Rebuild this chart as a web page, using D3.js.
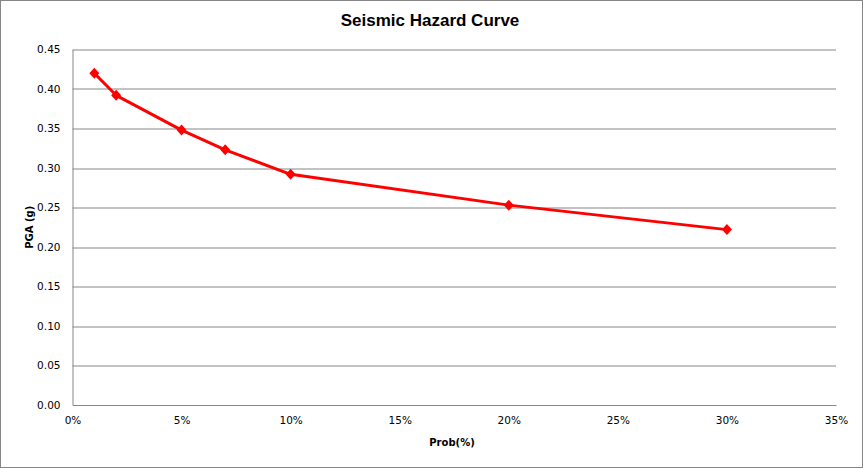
<!DOCTYPE html>
<html>
<head>
<meta charset="utf-8">
<script src="https://cdn.jsdelivr.net/npm/d3@7"></script>
<style>
  body { margin: 0; background: #fff; }
  text { font-family: "DejaVu Sans", sans-serif; }
</style>
</head>
<body>
<div id="chart"></div>
<script>
// values
const probs = [0.01, 0.02, 0.05, 0.07, 0.10, 0.20, 0.30];
const pga = [0.420, 0.392, 0.348, 0.323, 0.292, 0.253, 0.222];
const xTicks = [0, 0.05, 0.10, 0.15, 0.20, 0.25, 0.30, 0.35];
const yTicks = [0, 0.05, 0.10, 0.15, 0.20, 0.25, 0.30, 0.35, 0.40, 0.45];

const W = 863, H = 468;
const margin = {top: 49.5, right: 27, bottom: 63, left: 72.5};
const width = W - margin.left - margin.right;
const height = H - margin.top - margin.bottom;

const svg = d3.select("#chart").append("svg")
    .attr("width", W)
    .attr("height", H);

svg.append("rect")
    .attr("x", 0.5).attr("y", 0.5)
    .attr("width", W - 1).attr("height", H - 1)
    .attr("fill", "#fff")
    .attr("stroke", "#868686");

svg.append("text")
    .attr("x", 430).attr("y", 26)
    .attr("text-anchor", "middle")
    .style("font-family", "'Liberation Sans Narrow', sans-serif")
    .style("font-weight", "bold")
    .style("font-size", "17px")
    .text("Seismic Hazard Curve");

const g = svg.append("g")
    .attr("transform", "translate(" + margin.left + "," + margin.top + ")");

const x = d3.scaleLinear().domain([0, 0.35]).range([0, width]);
const y = d3.scaleLinear().domain([0, 0.45]).range([height, 0]);

// gridlines
g.selectAll(".grid")
    .data(yTicks.slice(1))
    .enter().append("line")
    .attr("class", "grid")
    .attr("x1", 0).attr("x2", width)
    .attr("y1", d => Math.round(y(d)) + 0.5)
    .attr("y2", d => Math.round(y(d)) + 0.5)
    .attr("stroke", "#868686");

// y axis
const yAxis = g.append("g")
    .call(d3.axisLeft(y).tickValues(yTicks).tickFormat(d3.format(".2f")).tickSize(0).tickPadding(12));
yAxis.select(".domain").attr("stroke", "#868686");
yAxis.selectAll("text").style("font-size", "10.5px").attr("fill", "#000");

// x axis
const xAxis = g.append("g")
    .attr("transform", "translate(0," + height + ")")
    .call(d3.axisBottom(x).tickValues(xTicks).tickFormat(d3.format(".0%")).tickSize(0).tickPadding(12));
xAxis.select(".domain").attr("stroke", "#868686");
xAxis.selectAll("text").style("font-size", "10.5px").attr("fill", "#000");

// axis titles
svg.append("text")
    .attr("x", 452).attr("y", 446)
    .attr("text-anchor", "middle")
    .style("font-weight", "bold")
    .style("font-size", "10px")
    .text("Prob(%)");

svg.append("text")
    .attr("transform", "translate(33," + (margin.top + height / 2) + ") rotate(-90)")
    .attr("text-anchor", "middle")
    .style("font-weight", "bold")
    .style("font-size", "10px")
    .text("PGA (g)");

// series
const pts = probs.map((p, i) => ({p: p, v: pga[i]}));

const line = d3.line()
    .x(d => x(d.p))
    .y(d => y(d.v));

g.append("path")
    .datum(pts)
    .attr("d", line)
    .attr("fill", "none")
    .attr("stroke", "#ff0000")
    .attr("stroke-width", 3)
    .attr("stroke-linejoin", "round");

g.selectAll(".marker")
    .data(pts)
    .enter().append("path")
    .attr("class", "marker")
    .attr("transform", d => "translate(" + x(d.p) + "," + y(d.v) + ")")
    .attr("d", "M0,-5.5L5,0L0,5.5L-5,0Z")
    .attr("fill", "#ff0000");
</script>
</body>
</html>
